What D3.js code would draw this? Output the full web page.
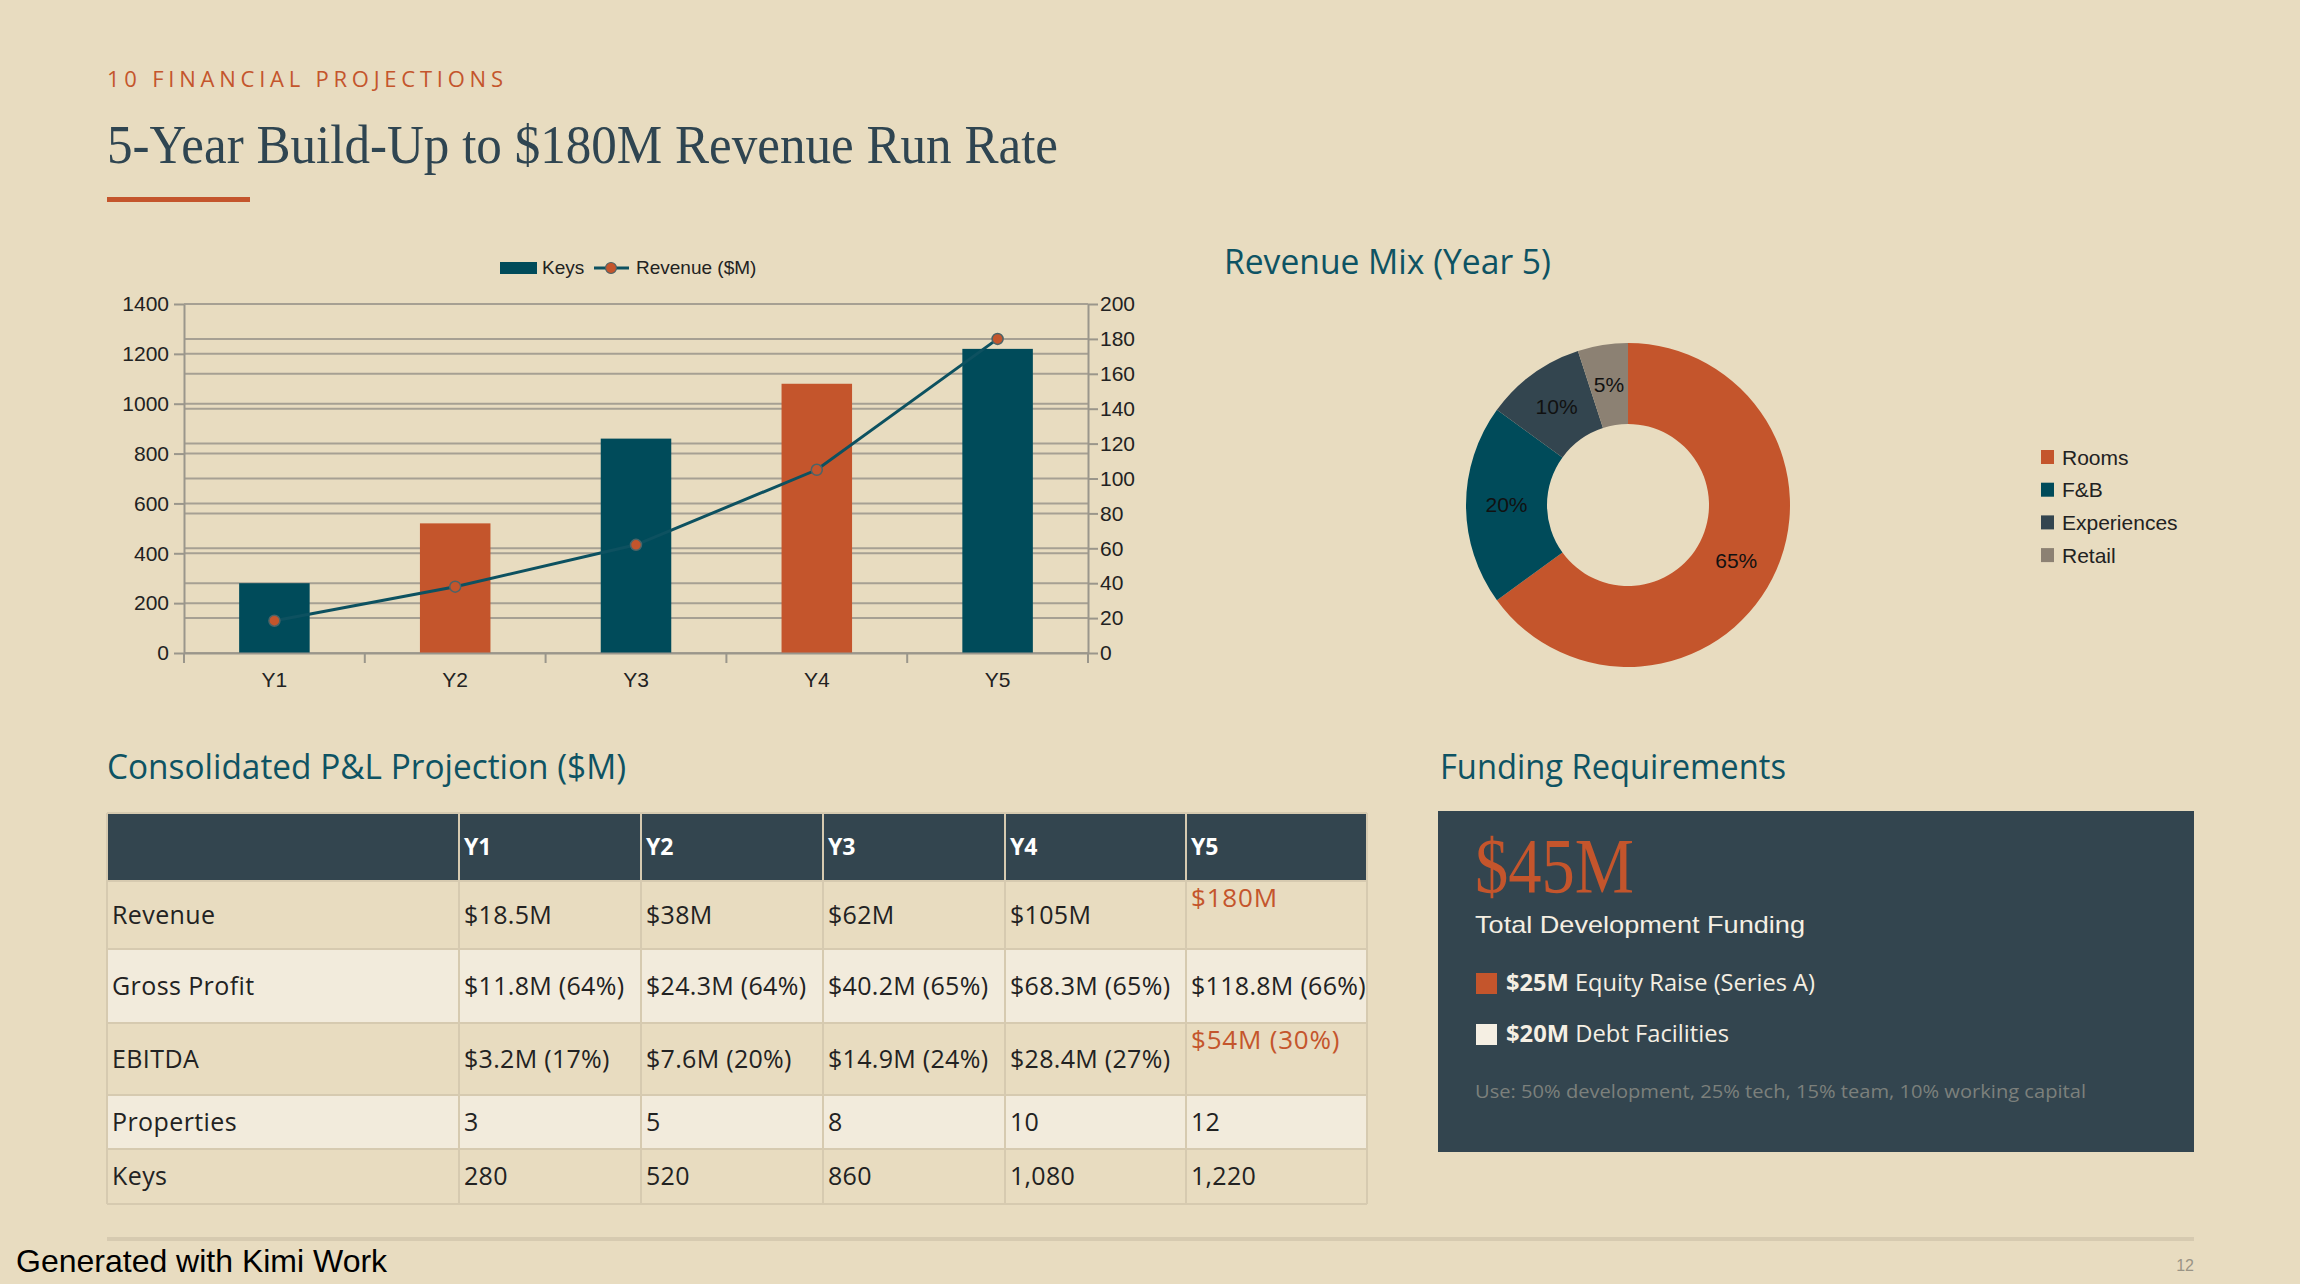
<!DOCTYPE html>
<html>
<head>
<meta charset="utf-8">
<script src="https://cdn.jsdelivr.net/npm/d3@7"></script>
<style>
  html, body { margin: 0; padding: 0; background: #e8dcc0; }
  svg { display: block; }
</style>
</head>
<body>
<svg id="chart" width="2300" height="1284"></svg>
<script>
// ---------------- DATA ----------------
const years = ["Y1", "Y2", "Y3", "Y4", "Y5"];
const keysCount = [280, 520, 860, 1080, 1220];
const revenueM = [18.5, 38, 62, 105, 180];
const keysTicks = [0, 200, 400, 600, 800, 1000, 1200, 1400];
const revenueTicks = [0, 20, 40, 60, 80, 100, 120, 140, 160, 180, 200];

const mixLabels = ["Rooms", "F&B", "Experiences", "Retail"];
const mixValues = [65, 20, 10, 5];

const tableHeader = ["", "Y1", "Y2", "Y3", "Y4", "Y5"];
const rowLabels = ["Revenue", "Gross Profit", "EBITDA", "Properties", "Keys"];
const plRevenue = ["$18.5M", "$38M", "$62M", "$105M", "$180M"];
const plGross = ["$11.8M (64%)", "$24.3M (64%)", "$40.2M (65%)", "$68.3M (65%)", "$118.8M (66%)"];
const plEbitda = ["$3.2M (17%)", "$7.6M (20%)", "$14.9M (24%)", "$28.4M (27%)", "$54M (30%)"];
const plProperties = ["3", "5", "8", "10", "12"];
const plKeys = ["280", "520", "860", "1,080", "1,220"];

const fundingTotal = "$45M";
const fundingAmounts = ["$25M", "$20M"];
const fundingNames = ["Equity Raise (Series A)", "Debt Facilities"];
const fundingUse = "Use: 50% development, 25% tech, 15% team, 10% working capital";

// ---------------- STYLE ----------------
const C = {
  bg: "#e8dcc0", orange: "#c4552c", teal: "#004b5a", slate: "#33454f",
  taupe: "#8c8173", heading: "#0e5363", title: "#2f4551", grid: "#a6a093",
  axis: "#9a968b", light: "#f2ebdc", border: "#d6cab0"
};
const SANS = "'Liberation Sans', Arial, sans-serif";
const HUM = "'Open Sans', 'Noto Sans', sans-serif";
const SERIF = "'Liberation Serif', 'DejaVu Serif', serif";

const svg = d3.select("#chart");
svg.append("rect").attr("width", 2300).attr("height", 1284).attr("fill", C.bg);

// ---------------- HEADER ----------------
svg.append("text").attr("x", 107).attr("y", 87)
  .attr("font-family", HUM).attr("font-size", 22).attr("fill", C.orange)
  .attr("textLength", 396).attr("lengthAdjust", "spacing")
  .text("10 FINANCIAL PROJECTIONS");
svg.append("text").attr("x", 107).attr("y", 163)
  .attr("font-family", SERIF).attr("font-size", 55).attr("fill", C.title)
  .attr("textLength", 951).attr("lengthAdjust", "spacingAndGlyphs")
  .text("5-Year Build-Up to $180M Revenue Run Rate");
svg.append("rect").attr("x", 107).attr("y", 197).attr("width", 143).attr("height", 5).attr("fill", C.orange);

// ---------------- COMBO CHART ----------------
const plot = { left: 184, right: 1088, top: 304, bottom: 653 };
const x = d3.scaleBand().domain(years).range([plot.left, plot.right]).paddingInner(0.61).paddingOuter(0.305);
const yL = d3.scaleLinear().domain([0, 1400]).range([plot.bottom, plot.top]);
const yR = d3.scaleLinear().domain([0, 200]).range([plot.bottom, plot.top]);

const g = svg.append("g");
// gridlines (both axes)
g.selectAll(".gl").data(keysTicks).join("line")
  .attr("x1", plot.left).attr("x2", plot.right)
  .attr("y1", d => yL(d)).attr("y2", d => yL(d))
  .attr("stroke", C.grid).attr("stroke-width", 2);
g.selectAll(".gr").data(revenueTicks).join("line")
  .attr("x1", plot.left).attr("x2", plot.right)
  .attr("y1", d => yR(d)).attr("y2", d => yR(d))
  .attr("stroke", C.grid).attr("stroke-width", 2);

// bars
g.selectAll(".bar").data(keysCount).join("rect")
  .attr("x", (d, i) => x(years[i])).attr("width", x.bandwidth())
  .attr("y", d => yL(d)).attr("height", d => yL(0) - yL(d))
  .attr("fill", (d, i) => i % 2 ? C.orange : C.teal);

// axes
function styleAxis(sel) {
  sel.select(".domain").attr("stroke", C.axis).attr("stroke-width", 2);
  sel.selectAll(".tick line").attr("stroke", C.axis).attr("stroke-width", 2);
  sel.selectAll(".tick text").attr("font-family", SANS).attr("font-size", 21).attr("fill", "#222");
}
const axL = svg.append("g").attr("transform", `translate(${plot.left},0)`)
  .call(d3.axisLeft(yL).tickValues(keysTicks).tickFormat(d3.format("d")).tickSize(10).tickSizeOuter(0).tickPadding(5));
styleAxis(axL);
const axR = svg.append("g").attr("transform", `translate(${plot.right},0)`)
  .call(d3.axisRight(yR).tickValues(revenueTicks).tickFormat(d3.format("d")).tickSize(10).tickSizeOuter(0).tickPadding(2));
styleAxis(axR);
const axB = svg.append("g").attr("transform", `translate(0,${plot.bottom})`)
  .call(d3.axisBottom(x).tickSize(0).tickSizeOuter(0).tickPadding(19));
styleAxis(axB);
// category boundary ticks
const bounds = years.map(d => x(d) - x.step() * x.paddingInner() / 2).concat([plot.right]);
svg.append("g").selectAll("line").data(bounds).join("line")
  .attr("x1", d => d).attr("x2", d => d).attr("y1", plot.bottom).attr("y2", plot.bottom + 10)
  .attr("stroke", C.axis).attr("stroke-width", 2);

// revenue line
const line = d3.line().x((d, i) => x(years[i]) + x.bandwidth() / 2).y(d => yR(d));
svg.append("path").datum(revenueM).attr("d", line)
  .attr("fill", "none").attr("stroke", "#0d5160").attr("stroke-width", 3);
svg.append("g").selectAll("circle").data(revenueM).join("circle")
  .attr("cx", (d, i) => x(years[i]) + x.bandwidth() / 2).attr("cy", d => yR(d)).attr("r", 5.5)
  .attr("fill", C.orange).attr("stroke", "#4b6468").attr("stroke-width", 1.5);

// legend
const lg = svg.append("g").attr("font-family", SANS).attr("font-size", 19).attr("fill", "#222");
lg.append("rect").attr("x", 500).attr("y", 262).attr("width", 37).attr("height", 12).attr("fill", C.teal);
lg.append("text").attr("x", 542).attr("y", 274).text("Keys");
lg.append("line").attr("x1", 594).attr("x2", 629).attr("y1", 268).attr("y2", 268).attr("stroke", "#0d5160").attr("stroke-width", 3);
lg.append("circle").attr("cx", 611).attr("cy", 268).attr("r", 5.5).attr("fill", C.orange).attr("stroke", "#4b6468").attr("stroke-width", 1.2);
lg.append("text").attr("x", 636).attr("y", 274).text("Revenue ($M)");

// ---------------- DONUT ----------------
svg.append("text").attr("x", 1224).attr("y", 274)
  .attr("font-family", HUM).attr("font-size", 34).attr("fill", C.heading)
  .attr("textLength", 327).attr("lengthAdjust", "spacingAndGlyphs")
  .text("Revenue Mix (Year 5)");
const mixColors = [C.orange, C.teal, C.slate, C.taupe];
const pie = d3.pie().sort(null).value(d => d);
const arc = d3.arc().innerRadius(81).outerRadius(162);
const dg = svg.append("g").attr("transform", "translate(1628,505)");
const arcs = pie(mixValues);
dg.selectAll("path").data(arcs).join("path").attr("d", arc).attr("fill", (d, i) => mixColors[i]);
dg.selectAll("text").data(arcs).join("text")
  .attr("transform", d => `translate(${arc.centroid(d)})`)
  .attr("text-anchor", "middle").attr("dy", "0.35em")
  .attr("font-family", SANS).attr("font-size", 21).attr("fill", "#111")
  .text(d => d.data + "%");
const dl = svg.append("g").attr("font-family", SANS).attr("font-size", 21).attr("fill", "#222");
mixLabels.forEach((m, i) => {
  const cy = 457 + i * 32.7;
  dl.append("rect").attr("x", 2041).attr("y", cy - 7).attr("width", 13).attr("height", 14).attr("fill", mixColors[i]);
  dl.append("text").attr("x", 2062).attr("y", cy + 7.5).text(m);
});

// ---------------- TABLE ----------------
svg.append("text").attr("x", 107).attr("y", 779)
  .attr("font-family", HUM).attr("font-size", 34).attr("fill", C.heading)
  .attr("textLength", 519).attr("lengthAdjust", "spacingAndGlyphs")
  .text("Consolidated P&L Projection ($M)");
const colX = [107, 459, 641, 823, 1005, 1186, 1367];
const rowY = [813, 881, 949, 1023, 1095, 1149, 1204];
const rows = [plRevenue, plGross, plEbitda, plProperties, plKeys];
const rowFill = [C.bg, C.light, C.bg, C.light, C.bg];
const tg = svg.append("g");
// header
tg.append("rect").attr("x", colX[0]).attr("y", rowY[0]).attr("width", colX[6] - colX[0]).attr("height", rowY[1] - rowY[0]).attr("fill", C.slate);
rows.forEach((r, ri) => {
  tg.append("rect").attr("x", colX[0]).attr("y", rowY[ri + 1]).attr("width", colX[6] - colX[0])
    .attr("height", rowY[ri + 2] - rowY[ri + 1]).attr("fill", rowFill[ri]);
});
// borders
tg.selectAll(".hl").data(rowY).join("line")
  .attr("x1", colX[0]).attr("x2", colX[6]).attr("y1", d => d).attr("y2", d => d)
  .attr("stroke", C.border).attr("stroke-width", 2);
tg.selectAll(".vl").data(colX).join("line")
  .attr("x1", d => d).attr("x2", d => d).attr("y1", rowY[0]).attr("y2", rowY[6])
  .attr("stroke", C.border).attr("stroke-width", 2);
// header text
tableHeader.forEach((h, ci) => {
  if (!h) return;
  tg.append("text").attr("x", colX[ci] + 5).attr("y", 855)
    .attr("font-family", HUM).attr("font-size", 23).attr("font-weight", 700).attr("fill", "#ffffff").text(h);
});
// body text
rows.forEach((r, ri) => {
  const top = rowY[ri + 1], bot = rowY[ri + 2], mid = (top + bot) / 2;
  tg.append("text").attr("x", colX[0] + 5).attr("y", mid + 8.5)
    .attr("font-family", HUM).attr("font-size", 25).attr("fill", "#222").attr("letter-spacing", 0.4).text(rowLabels[ri]);
  r.forEach((v, ci) => {
    const highlight = ci === 4 && (ri === 0 || ri === 2);
    tg.append("text").attr("x", colX[ci + 1] + 5).attr("y", highlight ? top + 26 : mid + 8.5)
      .attr("font-family", HUM).attr("font-size", highlight ? 26 : 25).attr("letter-spacing", highlight ? 0.8 : 0.3)
      .attr("fill", highlight ? C.orange : "#222").text(v);
  });
});

// ---------------- FUNDING ----------------
svg.append("text").attr("x", 1440).attr("y", 779)
  .attr("font-family", HUM).attr("font-size", 34).attr("fill", C.heading)
  .attr("textLength", 346).attr("lengthAdjust", "spacingAndGlyphs")
  .text("Funding Requirements");
svg.append("rect").attr("x", 1438).attr("y", 811).attr("width", 756).attr("height", 341).attr("fill", C.slate);
svg.append("text").attr("x", 1475).attr("y", 892)
  .attr("font-family", SERIF).attr("font-size", 78).attr("fill", C.orange)
  .attr("textLength", 159).attr("lengthAdjust", "spacingAndGlyphs").text(fundingTotal);
svg.append("text").attr("x", 1475).attr("y", 933)
  .attr("font-family", SANS).attr("font-size", 24).attr("fill", "#f5efe3")
  .attr("textLength", 330).attr("lengthAdjust", "spacingAndGlyphs")
  .text("Total Development Funding");
const fColors = [C.orange, "#f5efe3"];
const fLens = [309, 223];
fundingAmounts.forEach((a, i) => {
  const top = 973 + i * 51;
  svg.append("rect").attr("x", 1476).attr("y", top).attr("width", 21).attr("height", 21).attr("fill", fColors[i]);
  const t = svg.append("text").attr("x", 1506).attr("y", top + 18)
    .attr("font-family", HUM).attr("font-size", 24).attr("fill", "#f5efe3")
    .attr("textLength", fLens[i]).attr("lengthAdjust", "spacingAndGlyphs");
  t.append("tspan").attr("font-weight", 700).text(a);
  t.append("tspan").text(" " + fundingNames[i]);
});
svg.append("text").attr("x", 1475).attr("y", 1098)
  .attr("font-family", HUM).attr("font-size", 18).attr("fill", "#7c807c")
  .attr("textLength", 611).attr("lengthAdjust", "spacingAndGlyphs").text(fundingUse);

// ---------------- FOOTER ----------------
svg.append("rect").attr("x", 107).attr("y", 1237).attr("width", 2087).attr("height", 4).attr("fill", C.border);
svg.append("text").attr("x", 2194).attr("y", 1271).attr("text-anchor", "end")
  .attr("font-family", SANS).attr("font-size", 16).attr("fill", "#9a9486").text("12");
svg.append("text").attr("x", 16).attr("y", 1272)
  .attr("font-family", SANS).attr("font-size", 32).attr("fill", "#000").text("Generated with Kimi Work");
</script>
</body>
</html>
